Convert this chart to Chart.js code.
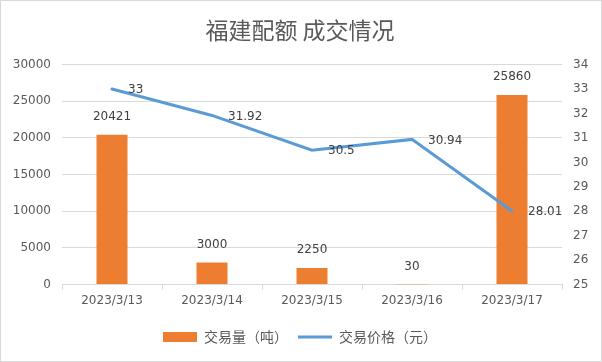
<!DOCTYPE html>
<html>
<head>
<meta charset="utf-8">
<script src="https://cdn.jsdelivr.net/npm/chart.js@4.4.0/dist/chart.umd.min.js"></script>
<style>
  html, body { margin: 0; padding: 0; background: #fff; }
  #wrap { width: 602px; height: 362px; }
</style>
</head>
<body>
<div id="wrap"><canvas id="c" width="602" height="362"></canvas></div>
<script>
// chart data
const dates = ['2023/3/13', '2023/3/14', '2023/3/15', '2023/3/16', '2023/3/17'];
const volume = [20421, 3000, 2250, 30, 25860];   // 交易量（吨）
const price = [33, 31.92, 30.5, 30.94, 28.01];    // 交易价格（元）
const volumeTicks = [0, 5000, 10000, 15000, 20000, 25000, 30000];
const priceTicks = [25, 26, 27, 28, 29, 30, 31, 32, 33, 34];

const textColor = '#595959';
const gridColor = '#d9d9d9';
const numFont = { family: '"DejaVu Sans", "Noto Sans CJK SC", sans-serif', size: 12 };

// border around the whole picture, like the excel chart frame
const framePlugin = {
    id: 'frame',
    beforeDraw(chart) {
        const ctx = chart.ctx;
        ctx.save();
        ctx.fillStyle = '#fff';
        ctx.fillRect(0, 0, chart.width, chart.height);
        ctx.strokeStyle = gridColor;
        ctx.lineWidth = 1;
        ctx.strokeRect(0.5, 0.5, chart.width - 1, chart.height - 1);
        ctx.restore();
    }
};

// value labels (no datalabels plugin available offline)
const labelPlugin = {
    id: 'valueLabels',
    afterDatasetsDraw(chart) {
        const ctx = chart.ctx;
        ctx.save();
        ctx.font = '12px "DejaVu Sans", sans-serif';
        ctx.fillStyle = '#404040';
        ctx.textBaseline = 'middle';

        const barMeta = chart.getDatasetMeta(0);
        ctx.textAlign = 'center';
        barMeta.data.forEach((bar, i) => {
            ctx.fillText(String(volume[i]), bar.x, bar.y - 18);
        });

        const lineMeta = chart.getDatasetMeta(1);
        ctx.textAlign = 'left';
        lineMeta.data.forEach((pt, i) => {
            ctx.fillText(String(price[i]), pt.x + 16, pt.y + 1);
        });
        ctx.restore();
    }
};

new Chart(document.getElementById('c'), {
    data: {
        labels: dates,
        datasets: [
            {
                type: 'bar',
                label: '交易量（吨）',
                data: volume,
                backgroundColor: '#ed7d31',
                yAxisID: 'y',
                order: 2,
                categoryPercentage: 1,
                barPercentage: 0.31
            },
            {
                type: 'line',
                label: '交易价格（元）',
                data: price,
                borderColor: '#5b9bd5',
                borderWidth: 3,
                borderCapStyle: 'round',
                pointRadius: 0,
                tension: 0,
                yAxisID: 'y1',
                order: 1
            }
        ]
    },
    options: {
        responsive: false,
        animation: false,
        layout: { autoPadding: false, padding: { left: 12, right: 14, top: 0, bottom: 8 } },
        scales: {
            x: {
                grid: {
                    drawOnChartArea: false,
                    drawTicks: true,
                    tickLength: 5,
                    color: gridColor,
                    offset: true
                },
                border: { color: gridColor },
                ticks: { color: textColor, font: numFont, padding: 4 },
                afterFit: (axis) => { axis.height += 8; }
            },
            y: {
                position: 'left',
                min: 0,
                max: 30000,
                afterBuildTicks: (axis) => { axis.ticks = volumeTicks.map(v => ({ value: v })); },
                afterFit: (axis) => { axis.width = 50; },
                grid: { color: gridColor, drawTicks: false },
                border: { display: false },
                ticks: { color: textColor, font: numFont, padding: 11, callback: (v) => String(v) }
            },
            y1: {
                position: 'right',
                min: 25,
                max: 34,
                afterBuildTicks: (axis) => { axis.ticks = priceTicks.map(v => ({ value: v })); },
                afterFit: (axis) => { axis.width = 26; },
                grid: { drawOnChartArea: false, drawTicks: false },
                border: { display: false },
                ticks: { color: textColor, font: numFont, padding: 11, callback: (v) => String(v) }
            }
        },
        plugins: {
            title: {
                display: true,
                text: '福建配额 成交情况',
                color: textColor,
                font: { family: '"Noto Sans CJK SC", sans-serif', size: 23, weight: 'normal' },
                padding: { top: 16, bottom: 21 }
            },
            legend: {
                position: 'bottom',
                labels: {
                    color: textColor,
                    font: { family: '"Noto Sans CJK SC", sans-serif', size: 14 },
                    usePointStyle: true,
                    pointStyleWidth: 34,
                    boxHeight: 10,
                    padding: 10,
                    generateLabels: (chart) => [
                        { text: '交易量（吨）', fillStyle: '#ed7d31', strokeStyle: '#ed7d31', lineWidth: 0, pointStyle: 'rect', datasetIndex: 0, fontColor: textColor },
                        { text: '交易价格（元）', fillStyle: '#5b9bd5', strokeStyle: '#5b9bd5', lineWidth: 3, pointStyle: 'line', datasetIndex: 1, fontColor: textColor }
                    ]
                }
            },
            tooltip: { enabled: false }
        }
    },
    plugins: [framePlugin, labelPlugin]
});
</script>
</body>
</html>
